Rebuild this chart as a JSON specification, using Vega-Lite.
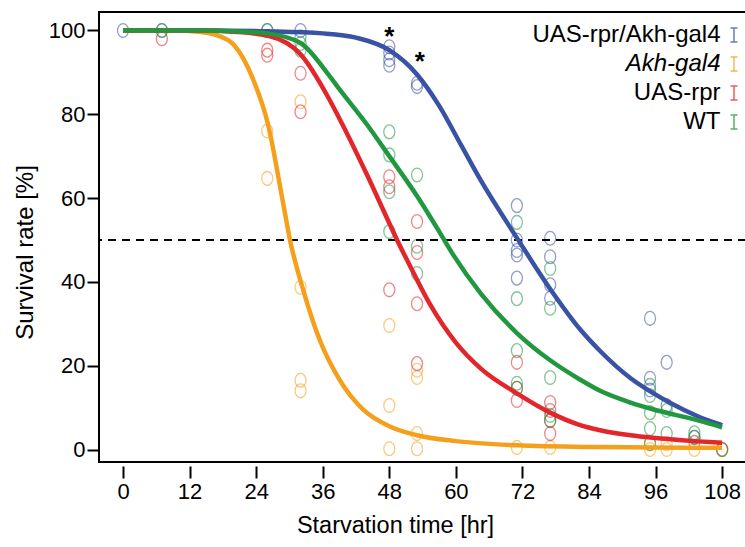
{
  "$schema": "https://vega.github.io/schema/vega-lite/v6.json",
  "width": 647,
  "height": 450,
  "autosize": "none",
  "padding": {"left": 99, "top": 12, "right": 0, "bottom": 85},
  "background": "white",
  "config": {
    "font": "Liberation Sans",
    "view": {"stroke": "black", "strokeWidth": 2}
  },
  "datasets": {
    "pts": [
      {"s": "UAS-rpr/Akh-gal4", "t": 0, "v": 100},
      {"s": "UAS-rpr/Akh-gal4", "t": 7, "v": 100},
      {"s": "UAS-rpr/Akh-gal4", "t": 26, "v": 100},
      {"s": "UAS-rpr/Akh-gal4", "t": 32, "v": 100},
      {"s": "UAS-rpr/Akh-gal4", "t": 48, "v": 96.1},
      {"s": "UAS-rpr/Akh-gal4", "t": 48, "v": 94.6},
      {"s": "UAS-rpr/Akh-gal4", "t": 48, "v": 93},
      {"s": "UAS-rpr/Akh-gal4", "t": 48, "v": 91.7},
      {"s": "UAS-rpr/Akh-gal4", "t": 53, "v": 87.4},
      {"s": "UAS-rpr/Akh-gal4", "t": 53, "v": 86.6},
      {"s": "UAS-rpr/Akh-gal4", "t": 71, "v": 58.2},
      {"s": "UAS-rpr/Akh-gal4", "t": 71, "v": 50},
      {"s": "UAS-rpr/Akh-gal4", "t": 71, "v": 47.5},
      {"s": "UAS-rpr/Akh-gal4", "t": 71, "v": 46.4},
      {"s": "UAS-rpr/Akh-gal4", "t": 71, "v": 40.9},
      {"s": "UAS-rpr/Akh-gal4", "t": 77, "v": 50.4},
      {"s": "UAS-rpr/Akh-gal4", "t": 77, "v": 46},
      {"s": "UAS-rpr/Akh-gal4", "t": 77, "v": 39.3},
      {"s": "UAS-rpr/Akh-gal4", "t": 77, "v": 36.1},
      {"s": "UAS-rpr/Akh-gal4", "t": 95, "v": 31.3},
      {"s": "UAS-rpr/Akh-gal4", "t": 95, "v": 17},
      {"s": "UAS-rpr/Akh-gal4", "t": 95, "v": 14.2},
      {"s": "UAS-rpr/Akh-gal4", "t": 98, "v": 20.8},
      {"s": "UAS-rpr/Akh-gal4", "t": 98, "v": 10.5},
      {"s": "UAS-rpr/Akh-gal4", "t": 103, "v": 2.9},
      {"s": "Akh-gal4", "t": 26, "v": 76},
      {"s": "Akh-gal4", "t": 26, "v": 64.7},
      {"s": "Akh-gal4", "t": 32, "v": 83},
      {"s": "Akh-gal4", "t": 32, "v": 38.7},
      {"s": "Akh-gal4", "t": 32, "v": 16.5},
      {"s": "Akh-gal4", "t": 32, "v": 14},
      {"s": "Akh-gal4", "t": 48, "v": 29.6},
      {"s": "Akh-gal4", "t": 48, "v": 10.5},
      {"s": "Akh-gal4", "t": 48, "v": 0.2},
      {"s": "Akh-gal4", "t": 53, "v": 18.9},
      {"s": "Akh-gal4", "t": 53, "v": 17.2},
      {"s": "Akh-gal4", "t": 53, "v": 3.8},
      {"s": "Akh-gal4", "t": 53, "v": 0.2},
      {"s": "Akh-gal4", "t": 71, "v": 0.5},
      {"s": "Akh-gal4", "t": 77, "v": 0.5},
      {"s": "Akh-gal4", "t": 95, "v": 1.4},
      {"s": "Akh-gal4", "t": 95, "v": 0},
      {"s": "Akh-gal4", "t": 98, "v": 1.4},
      {"s": "Akh-gal4", "t": 98, "v": 0},
      {"s": "Akh-gal4", "t": 103, "v": 0},
      {"s": "Akh-gal4", "t": 108, "v": 0},
      {"s": "UAS-rpr", "t": 7, "v": 98},
      {"s": "UAS-rpr", "t": 26, "v": 95.3},
      {"s": "UAS-rpr", "t": 26, "v": 94.1},
      {"s": "UAS-rpr", "t": 32, "v": 89.8},
      {"s": "UAS-rpr", "t": 32, "v": 80.6},
      {"s": "UAS-rpr", "t": 48, "v": 65.1},
      {"s": "UAS-rpr", "t": 48, "v": 62.7},
      {"s": "UAS-rpr", "t": 48, "v": 38.1},
      {"s": "UAS-rpr", "t": 53, "v": 54.4},
      {"s": "UAS-rpr", "t": 53, "v": 47},
      {"s": "UAS-rpr", "t": 53, "v": 34.8},
      {"s": "UAS-rpr", "t": 53, "v": 20.5},
      {"s": "UAS-rpr", "t": 71, "v": 20.8},
      {"s": "UAS-rpr", "t": 71, "v": 14.6},
      {"s": "UAS-rpr", "t": 71, "v": 11.7},
      {"s": "UAS-rpr", "t": 77, "v": 11.2},
      {"s": "UAS-rpr", "t": 77, "v": 9.3},
      {"s": "UAS-rpr", "t": 77, "v": 6.9},
      {"s": "UAS-rpr", "t": 77, "v": 3.8},
      {"s": "UAS-rpr", "t": 103, "v": 1.7},
      {"s": "UAS-rpr", "t": 108, "v": 0},
      {"s": "WT", "t": 7, "v": 100},
      {"s": "WT", "t": 26, "v": 100},
      {"s": "WT", "t": 32, "v": 98.5},
      {"s": "WT", "t": 32, "v": 96.9},
      {"s": "WT", "t": 32, "v": 95.3},
      {"s": "WT", "t": 48, "v": 75.8},
      {"s": "WT", "t": 48, "v": 70.3},
      {"s": "WT", "t": 48, "v": 61.5},
      {"s": "WT", "t": 48, "v": 52},
      {"s": "WT", "t": 53, "v": 65.5},
      {"s": "WT", "t": 53, "v": 48.5},
      {"s": "WT", "t": 53, "v": 42},
      {"s": "WT", "t": 71, "v": 54.2},
      {"s": "WT", "t": 71, "v": 36},
      {"s": "WT", "t": 71, "v": 23.6},
      {"s": "WT", "t": 71, "v": 15.8},
      {"s": "WT", "t": 71, "v": 14.6},
      {"s": "WT", "t": 77, "v": 43.2},
      {"s": "WT", "t": 77, "v": 33.7},
      {"s": "WT", "t": 77, "v": 17.2},
      {"s": "WT", "t": 77, "v": 8.1},
      {"s": "WT", "t": 77, "v": 6.9},
      {"s": "WT", "t": 95, "v": 15.3},
      {"s": "WT", "t": 95, "v": 12.9},
      {"s": "WT", "t": 95, "v": 8.8},
      {"s": "WT", "t": 95, "v": 5},
      {"s": "WT", "t": 95, "v": 1.4},
      {"s": "WT", "t": 98, "v": 9.3},
      {"s": "WT", "t": 98, "v": 3.8},
      {"s": "WT", "t": 103, "v": 4},
      {"s": "WT", "t": 103, "v": 2.9},
      {"s": "WT", "t": 108, "v": 0}
    ],
    "curves": [
      {"s": "UAS-rpr/Akh-gal4", "t": 0, "v": 100},
      {"s": "UAS-rpr/Akh-gal4", "t": 14, "v": 100},
      {"s": "UAS-rpr/Akh-gal4", "t": 26, "v": 99.8},
      {"s": "UAS-rpr/Akh-gal4", "t": 36, "v": 99.3},
      {"s": "UAS-rpr/Akh-gal4", "t": 42, "v": 98.3},
      {"s": "UAS-rpr/Akh-gal4", "t": 48, "v": 95.3},
      {"s": "UAS-rpr/Akh-gal4", "t": 53, "v": 89.5},
      {"s": "UAS-rpr/Akh-gal4", "t": 57, "v": 82},
      {"s": "UAS-rpr/Akh-gal4", "t": 61, "v": 72.5},
      {"s": "UAS-rpr/Akh-gal4", "t": 64.5, "v": 64.2},
      {"s": "UAS-rpr/Akh-gal4", "t": 71, "v": 50.5},
      {"s": "UAS-rpr/Akh-gal4", "t": 77, "v": 38.3},
      {"s": "UAS-rpr/Akh-gal4", "t": 82.5, "v": 28.5},
      {"s": "UAS-rpr/Akh-gal4", "t": 86, "v": 23.5},
      {"s": "UAS-rpr/Akh-gal4", "t": 91.5, "v": 17},
      {"s": "UAS-rpr/Akh-gal4", "t": 95.5, "v": 13.5},
      {"s": "UAS-rpr/Akh-gal4", "t": 98.5, "v": 11.2},
      {"s": "UAS-rpr/Akh-gal4", "t": 103.5, "v": 8},
      {"s": "UAS-rpr/Akh-gal4", "t": 108, "v": 5.8},
      {"s": "Akh-gal4", "t": 0, "v": 100},
      {"s": "Akh-gal4", "t": 10, "v": 100},
      {"s": "Akh-gal4", "t": 14, "v": 99.6},
      {"s": "Akh-gal4", "t": 17, "v": 98.8},
      {"s": "Akh-gal4", "t": 20, "v": 96.5},
      {"s": "Akh-gal4", "t": 23.4, "v": 88.5},
      {"s": "Akh-gal4", "t": 26.1, "v": 77.8},
      {"s": "Akh-gal4", "t": 28.9, "v": 58.5},
      {"s": "Akh-gal4", "t": 30.1, "v": 50},
      {"s": "Akh-gal4", "t": 32.5, "v": 38},
      {"s": "Akh-gal4", "t": 35.5, "v": 26},
      {"s": "Akh-gal4", "t": 39.1, "v": 16.5},
      {"s": "Akh-gal4", "t": 43.3, "v": 9.5},
      {"s": "Akh-gal4", "t": 48.1, "v": 5.5},
      {"s": "Akh-gal4", "t": 53, "v": 3.4},
      {"s": "Akh-gal4", "t": 60, "v": 2},
      {"s": "Akh-gal4", "t": 71, "v": 1},
      {"s": "Akh-gal4", "t": 85, "v": 0.6},
      {"s": "Akh-gal4", "t": 108, "v": 0.4},
      {"s": "UAS-rpr", "t": 0, "v": 100},
      {"s": "UAS-rpr", "t": 14, "v": 100},
      {"s": "UAS-rpr", "t": 20, "v": 99.7},
      {"s": "UAS-rpr", "t": 26, "v": 98.8},
      {"s": "UAS-rpr", "t": 32, "v": 94.3},
      {"s": "UAS-rpr", "t": 37, "v": 84},
      {"s": "UAS-rpr", "t": 39, "v": 79},
      {"s": "UAS-rpr", "t": 44, "v": 65.5},
      {"s": "UAS-rpr", "t": 48, "v": 54},
      {"s": "UAS-rpr", "t": 49.4, "v": 50},
      {"s": "UAS-rpr", "t": 51.2, "v": 45.2},
      {"s": "UAS-rpr", "t": 55.4, "v": 34.5},
      {"s": "UAS-rpr", "t": 60, "v": 25.5},
      {"s": "UAS-rpr", "t": 64.5, "v": 19.3},
      {"s": "UAS-rpr", "t": 71, "v": 13.4},
      {"s": "UAS-rpr", "t": 77, "v": 8.8},
      {"s": "UAS-rpr", "t": 82, "v": 6},
      {"s": "UAS-rpr", "t": 86, "v": 4.6},
      {"s": "UAS-rpr", "t": 91.5, "v": 3.4},
      {"s": "UAS-rpr", "t": 95.5, "v": 2.8},
      {"s": "UAS-rpr", "t": 103, "v": 2},
      {"s": "UAS-rpr", "t": 108, "v": 1.6},
      {"s": "WT", "t": 0, "v": 100},
      {"s": "WT", "t": 14, "v": 100},
      {"s": "WT", "t": 20, "v": 99.8},
      {"s": "WT", "t": 26, "v": 99.3},
      {"s": "WT", "t": 32, "v": 97},
      {"s": "WT", "t": 37, "v": 89.5},
      {"s": "WT", "t": 39, "v": 86},
      {"s": "WT", "t": 44, "v": 77.5},
      {"s": "WT", "t": 48, "v": 70},
      {"s": "WT", "t": 53, "v": 60.5},
      {"s": "WT", "t": 57, "v": 52},
      {"s": "WT", "t": 59.5, "v": 46.5},
      {"s": "WT", "t": 64.5, "v": 37.2},
      {"s": "WT", "t": 71, "v": 27.8},
      {"s": "WT", "t": 77, "v": 21.3},
      {"s": "WT", "t": 82.5, "v": 16.6},
      {"s": "WT", "t": 86, "v": 14},
      {"s": "WT", "t": 91.5, "v": 11.2},
      {"s": "WT", "t": 95.5, "v": 9.6},
      {"s": "WT", "t": 103.5, "v": 7},
      {"s": "WT", "t": 108, "v": 5.3}
    ],
    "ref": [
      {"v": 50}
    ],
    "stars": [
      {"t": 48, "v": 98.4, "label": "*"},
      {"t": 53.5, "v": 92.5, "label": "*"}
    ]
  },
  "layer": [
    {
      "data": {"name": "pts"},
      "mark": {
        "type": "point",
        "shape": "M0,-1A0.8,1 0 1,1 0,1A0.8,1 0 1,1 0,-1Z",
        "filled": false,
        "size": 190,
        "strokeWidth": 1.3,
        "opacity": 0.55
      },
      "encoding": {
        "x": {
          "field": "t",
          "type": "quantitative",
          "scale": {"domain": [-4.33, 112.3], "nice": false, "zero": false},
          "axis": {
            "title": "Starvation time [hr]",
            "values": [0, 12, 24, 36, 48, 60, 72, 84, 96, 108],
            "domain": false,
            "grid": false,
            "offset": 4,
            "tickSize": 12,
            "tickWidth": 2,
            "tickColor": "black",
            "labelFontSize": 22,
            "labelColor": "black",
            "labelPadding": 3,
            "titleFontSize": 23.5,
            "titleFontWeight": "normal",
            "titleColor": "black",
            "titlePadding": 11,
            "titleX": 296
          }
        },
        "y": {
          "field": "v",
          "type": "quantitative",
          "scale": {"domain": [-2.98, 104.4], "nice": false, "zero": false},
          "axis": {
            "title": "Survival rate [%]",
            "values": [0, 20, 40, 60, 80, 100],
            "domain": false,
            "grid": false,
            "tickSize": 12,
            "tickWidth": 2,
            "tickColor": "black",
            "labelFontSize": 22,
            "labelColor": "black",
            "labelPadding": 2,
            "titleFontSize": 24,
            "titleFontWeight": "normal",
            "titleColor": "black",
            "titlePadding": 11,
            "titleY": 240
          }
        },
        "color": {
          "field": "s",
          "type": "nominal",
          "scale": {
            "domain": ["UAS-rpr/Akh-gal4", "Akh-gal4", "UAS-rpr", "WT"],
            "range": ["#3a52a3", "#f5a01c", "#e2262c", "#21973f"]
          }
        }
      }
    },
    {
      "data": {"name": "ref"},
      "mark": {"type": "rule", "color": "black", "strokeWidth": 2, "strokeDash": [8, 6]},
      "encoding": {"y": {"field": "v", "type": "quantitative"}}
    },
    {
      "data": {"name": "curves"},
      "mark": {"type": "line", "interpolate": "monotone", "strokeWidth": 4.5},
      "encoding": {
        "x": {"field": "t", "type": "quantitative"},
        "y": {"field": "v", "type": "quantitative"},
        "color": {
          "field": "s",
          "type": "nominal",
          "legend": {
            "title": null,
            "orient": "none",
            "legendX": 623,
            "legendY": 11,
            "padding": 0,
            "symbolType": "M-0.5,-1H0.5M0,-1V1M-0.5,1H0.5",
            "symbolSize": 196,
            "symbolStrokeWidth": 1.5,
            "symbolOpacity": 0.75,
            "symbolFillColor": "transparent",
            "labelAlign": "right",
            "labelOffset": -25.5,
            "labelFontSize": 24,
            "labelColor": "black",
            "labelLimit": 400,
            "rowPadding": 5,
            "encode": {
              "labels": {
                "update": {
                  "fontStyle": {"signal": "datum.value === 'Akh-gal4' ? 'italic' : 'normal'"}
                }
              }
            }
          }
        }
      }
    },
    {
      "data": {"name": "stars"},
      "mark": {"type": "text", "fontSize": 26, "fontWeight": "bold", "color": "black", "baseline": "middle", "align": "center"},
      "encoding": {
        "x": {"field": "t", "type": "quantitative"},
        "y": {"field": "v", "type": "quantitative"},
        "text": {"field": "label"}
      }
    }
  ]
}
